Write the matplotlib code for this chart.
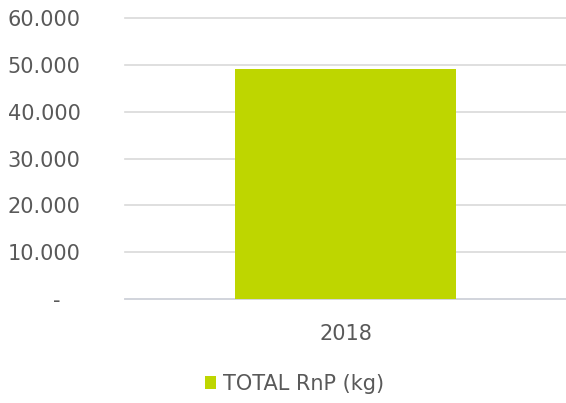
import matplotlib.pyplot as plt

years = ["2018"]
rnp_kg = [49100]
series_name = "TOTAL RnP (kg)"
y_ticks = [0, 10000, 20000, 30000, 40000, 50000, 60000]
y_labels = ["-   ", "10.000", "20.000", "30.000", "40.000", "50.000", "60.000"]

fig = plt.figure(figsize=(5.66, 4.03), dpi=100)
ax = fig.add_axes([0.221, 0.258, 0.779, 0.697])

bars = ax.bar(years, rnp_kg, width=0.503, color="#BED600", label=series_name, zorder=3)

ax.set_ylim(0, 60000)
ax.set_xlim(-0.5, 0.5)
ax.set_yticks(y_ticks)
ax.set_yticklabels(y_labels)
ax.yaxis.grid(True, color="#D9D9D9", linewidth=1.2, zorder=0)
for gl in ax.get_ygridlines():
    gl.set_clip_on(False)
ax.tick_params(axis="y", length=0, pad=32, labelsize=15, labelcolor="#595959")
ax.tick_params(axis="x", length=0, pad=18, labelsize=15, labelcolor="#595959")
for s in ["top", "right", "left"]:
    ax.spines[s].set_visible(False)
ax.spines["bottom"].set_color("#D0D4DC")
ax.spines["bottom"].set_linewidth(1.2)

fig.legend(handles=[bars], labels=[series_name], loc="center", bbox_to_anchor=(0.52, 0.048),
           frameon=False, fontsize=15, labelcolor="#595959",
           handlelength=0.55, handleheight=0.55, handletextpad=0.3)

fig.savefig("out.png", dpi=100)
